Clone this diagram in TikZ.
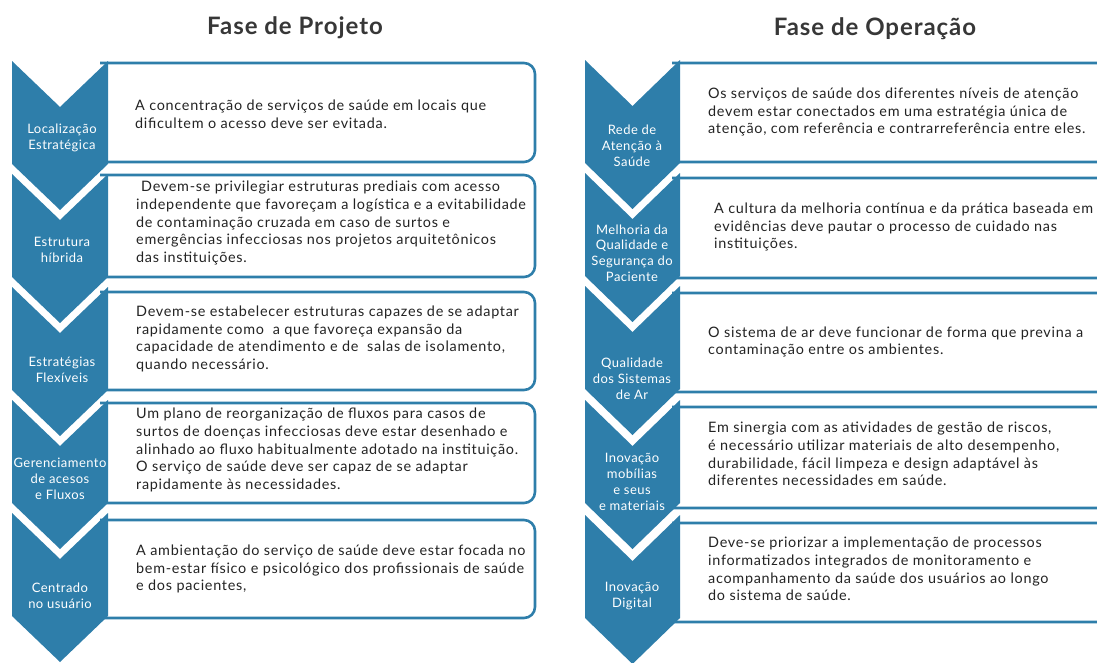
\documentclass[tikz,border=0pt]{standalone}
\usepackage{fontspec}
\setmainfont{Lato}
\newfontfamily\bodyfont[LetterSpace=5]{Lato}
\newfontfamily\labfont[LetterSpace=3.5]{Lato}
\newfontfamily\ttlfont[LetterSpace=4]{Lato}
\definecolor{cblue}{RGB}{46,126,170}
\definecolor{ctext}{RGB}{35,35,35}
\definecolor{ctitle}{RGB}{55,55,55}
\tikzset{
  chev/.style={fill=cblue, draw=none},
  boxline/.style={draw=cblue, line width=2.6pt, rounded corners=11pt, fill=white},
  body/.style={anchor=west, align=left, text=ctext, inner sep=0pt, font=\bodyfont\fontsize{14.4}{17.6}\selectfont},
  lab/.style={align=center, text=white, inner sep=0pt, font=\labfont\fontsize{13}{15.8}\selectfont},
  ttl/.style={text=ctitle, inner sep=0pt, font=\ttlfont\fontsize{24}{27}\selectfont\bfseries}
}
\newcommand{\chevron}[3]{% xleft, xright, top
  \pgfmathsetmacro{\xc}{(#1+#2)/2}
  \fill[chev] (#1,#3) -- (\xc,#3+46) -- (#2,#3) -- (#2,#3+103) -- (\xc,#3+149) -- (#1,#3+103) -- cycle;}
\newcommand{\txtbox}[4]{% xleft, xright, top, bottom
  \path[boxline] (#1,#3) -- (#2,#3) -- (#2,#4) -- (#1,#4);}
\begin{document}
\begin{tikzpicture}[x=1pt,y=-1pt]
\useasboundingbox (0,0) rectangle (1097,662);
\clip (0,0) rectangle (1097,662);
% titles
\node[ttl] (t1) at (295,28) {Fase de Projeto};
\node[ttl] (t2) at (875,29) {Fase de Operação};
% left boxes
\txtbox{100}{535}{63}{162}
\txtbox{100}{535}{175}{277}
\txtbox{100}{535}{292}{390}
\txtbox{100}{535}{403}{503}
\txtbox{100}{535}{520}{618}
% right boxes
\txtbox{672}{1130}{63}{162}
\txtbox{672}{1130}{178}{278}
\txtbox{672}{1130}{293}{392}
\txtbox{672}{1130}{407}{508}
\txtbox{672}{1130}{523}{622}
% left chevrons
\chevron{12}{108}{61}
\chevron{12}{108}{174}
\chevron{12}{108}{287}
\chevron{12}{108}{400}
\chevron{12}{108}{513}
% right chevrons
\chevron{585}{680}{60}
\chevron{585}{680}{173}
\chevron{585}{680}{286}
\chevron{585}{680}{400}
\chevron{585}{680}{515}
% left labels
\node[lab] (l1) at (62,138) {Localização\\Estratégica};
\node[lab] (l2) at (62,250) {Estrutura\\híbrida};
\node[lab] (l3) at (62,370) {Estratégias\\Flexíveis};
\node[lab] (l4) at (60,479) {Gerenciamento\\de acesos\\e Fluxos};
\node[lab] (l5) at (60,596) {Centrado\\no usuário};
% right labels
\node[lab] (r1) at (632,146) {Rede de\\Atenção à\\Saúde};
\node[lab] (r2) at (632,253) {Melhoria da\\Qualidade e\\Segurança do\\Paciente};
\node[lab] (r3) at (632,379) {Qualidade\\dos Sistemas\\de Ar};
\node[lab] (r4) at (632,482) {Inovação\\mobílias\\e seus\\e materiais};
\node[lab] (r5) at (632,596) {Inovação\\Digital};
% left texts
\node[body] (lt1) at (135,114) {A concentração de serviços de saúde em locais que\\dificultem o acesso deve ser evitada.};
\node[body] (lt2) at (136,223) {\hspace*{5pt}Devem-se privilegiar estruturas prediais com acesso\\independente que favoreçam a logística e a evitabilidade\\de contaminação cruzada em caso de surtos e\\emergências infecciosas nos projetos arquitetônicos\\das instituições.};
\node[body] (lt3) at (136,339) {Devem-se estabelecer estruturas capazes de se adaptar\\rapidamente como~ a que favoreça expansão da\\capacidade de atendimento e de~ salas de isolamento,\\quando necessário.};
\node[body] (lt4) at (136,450) {Um plano de reorganização de fluxos para casos de\\surtos de doenças infecciosas deve estar desenhado e\\alinhado ao fluxo habitualmente adotado na instituição.\\O serviço de saúde deve ser capaz de se adaptar\\rapidamente às necessidades.};
\node[body] (lt5) at (136,569) {A ambientação do serviço de saúde deve estar focada no\\bem-estar físico e psicológico dos profissionais de saúde\\e dos pacientes,};
% right texts
\node[body] (rt1) at (708,112) {Os serviços de saúde dos diferentes níveis de atenção\\devem estar conectados em uma estratégia única de\\atenção, com referência e contrarreferência entre eles.};
\node[body] (rt2) at (714,227) {A cultura da melhoria contínua e da prática baseada em\\evidências deve pautar o processo de cuidado nas\\instituições.};
\node[body] (rt3) at (708,342) {O sistema de ar deve funcionar de forma que previna a\\contaminação entre os ambientes.};
\node[body] (rt4) at (708,454) {Em sinergia com as atividades de gestão de riscos,\\é necessário utilizar materiais de alto desempenho,\\durabilidade, fácil limpeza e design adaptável às\\diferentes necessidades em saúde.};
\node[body] (rt5) at (708,569) {Deve-se priorizar a implementação de processos\\informatizados integrados de monitoramento e\\acompanhamento da saúde dos usuários ao longo\\do sistema de saúde.};
\end{tikzpicture}
\end{document}
